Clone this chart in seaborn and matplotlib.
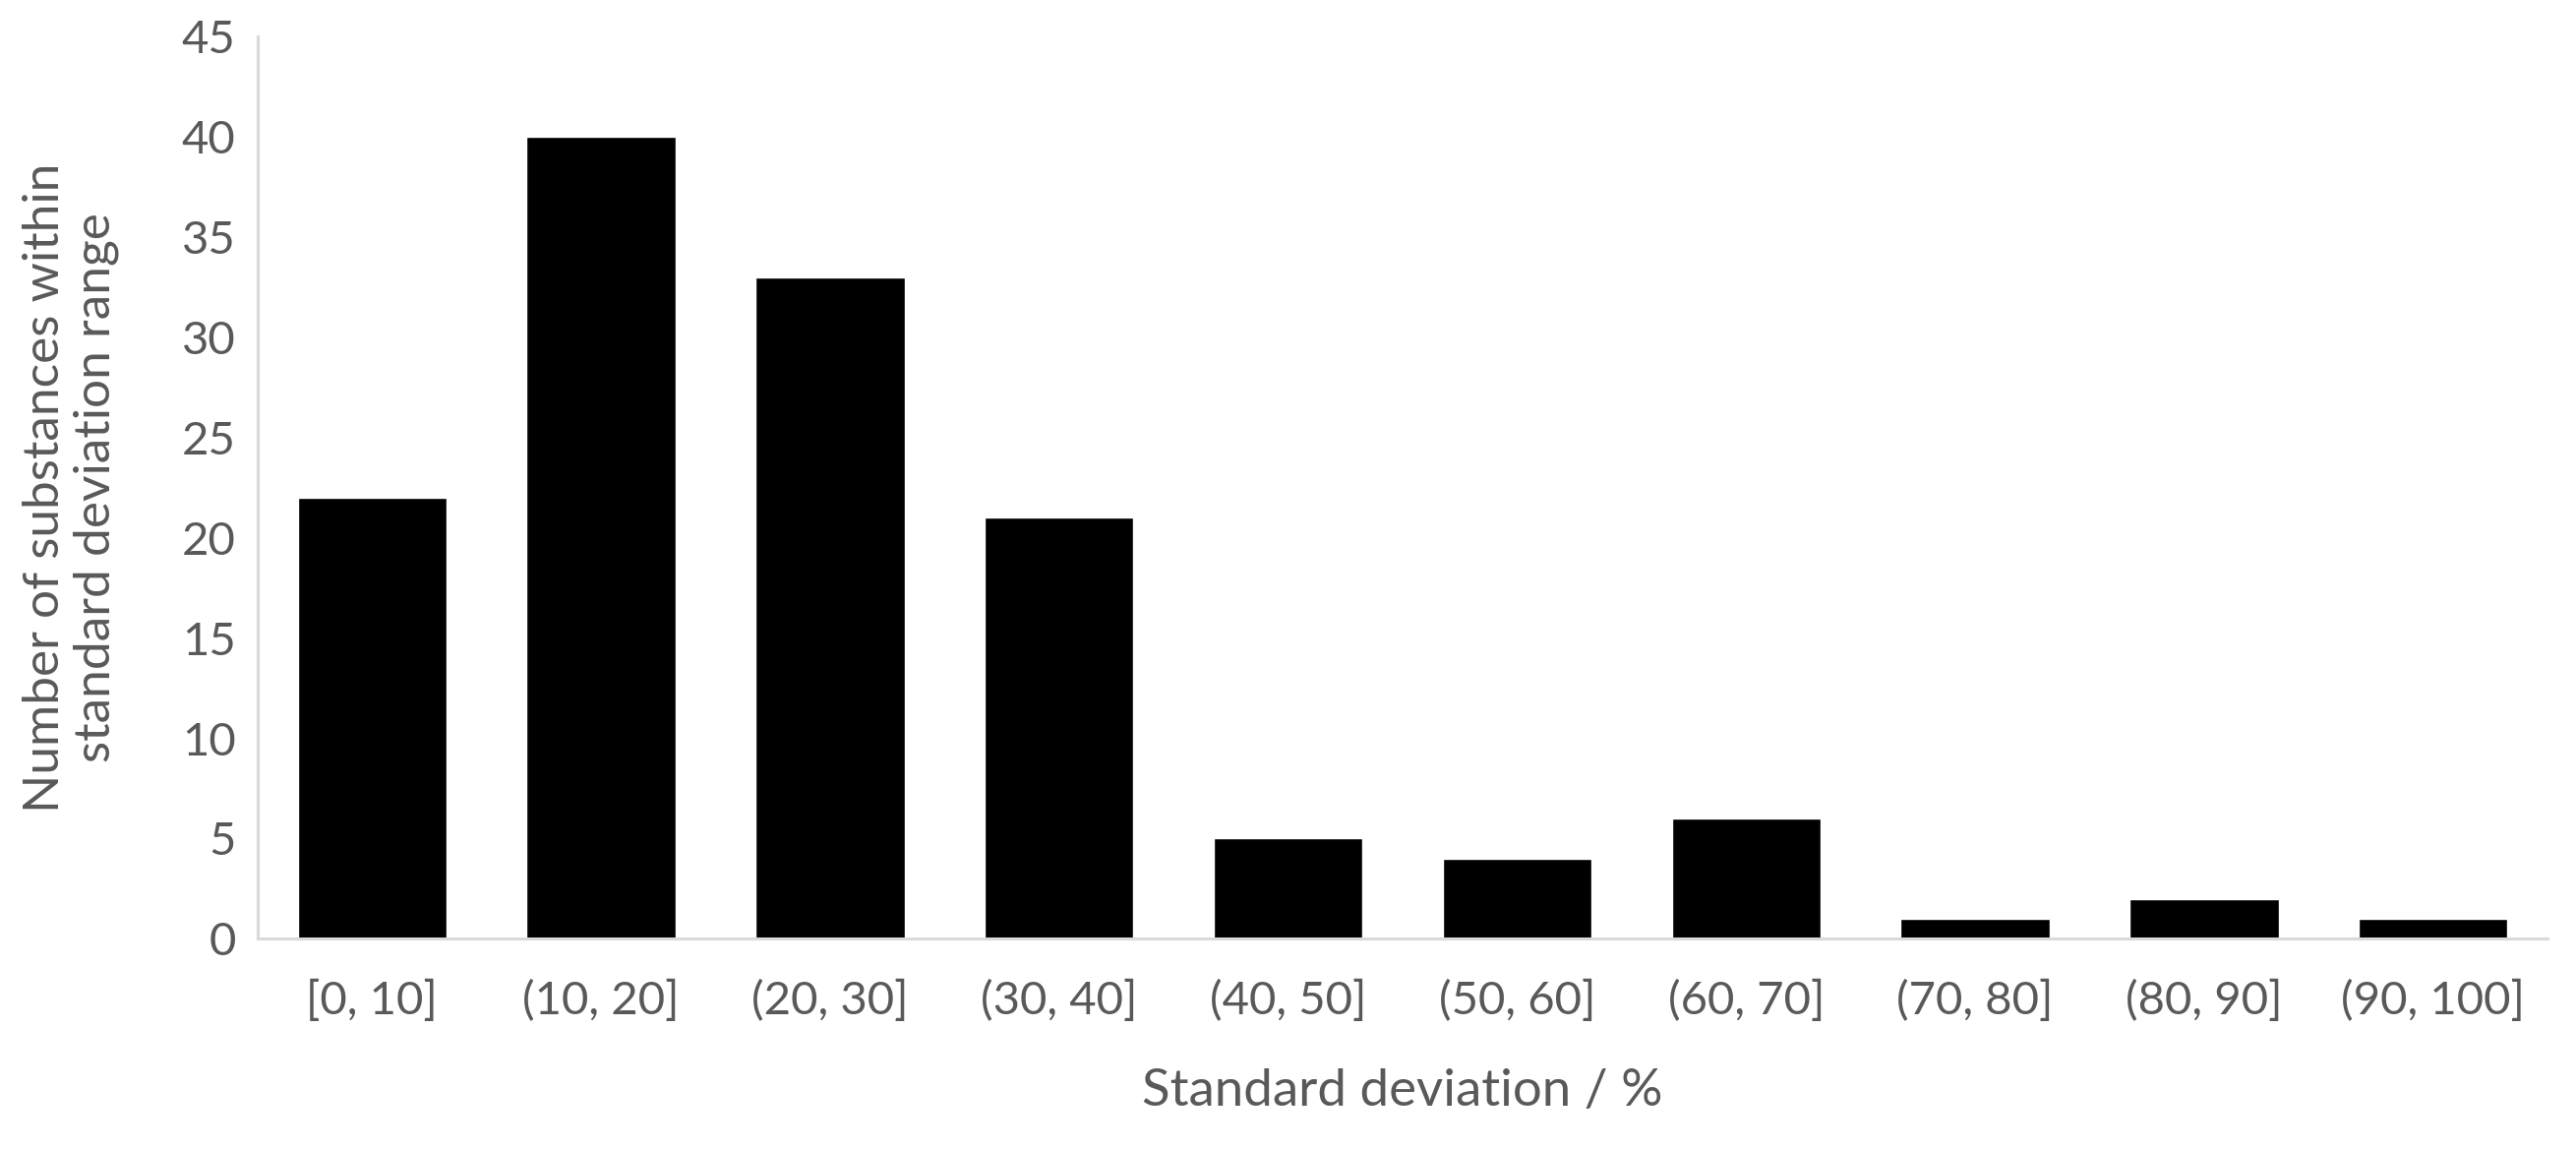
import matplotlib
matplotlib.use("Agg")
import matplotlib.pyplot as plt
import seaborn as sns
import pandas as pd

# histogram of standard deviation ranges
bins = ['[0, 10]', '(10, 20]', '(20, 30]', '(30, 40]', '(40, 50]',
        '(50, 60]', '(60, 70]', '(70, 80]', '(80, 90]', '(90, 100]']
counts = [22, 40, 33, 21, 5, 4, 6, 1, 2, 1]
y_ticks = [0, 5, 10, 15, 20, 25, 30, 35, 40, 45]

df = pd.DataFrame({'bin': bins, 'count': counts})

sns.set_theme(style="white")
plt.rcParams['font.family'] = ['Lato', 'DejaVu Sans']
grey = '#595959'

fig = plt.figure(figsize=(26.19, 11.68), dpi=100)
ax = fig.add_axes([0.100, 0.183, 0.889, 0.785])
sns.barplot(data=df, x='bin', y='count', color='black', width=0.65,
            saturation=1, ax=ax)

ax.set_ylim(0, 45)
ax.set_xlim(-0.5, 9.5)
ax.set_yticks(y_ticks)
ax.tick_params(axis='both', length=0, labelsize=34, labelcolor=grey)
ax.tick_params(axis='y', pad=16)
ax.tick_params(axis='x', pad=30)
for s in ['top', 'right']:
    ax.spines[s].set_visible(False)
for s in ['left', 'bottom']:
    ax.spines[s].set_color('#d9d9d9')
    ax.spines[s].set_linewidth(2.2)

ax.set_xlabel('Standard deviation / %', fontsize=38, color=grey, labelpad=34)
ax.set_ylabel('Number of substances within\nstandard deviation range',
              fontsize=37, color=grey, labelpad=46, linespacing=1.15)

plt.savefig('out.png', dpi=100)
plt.close()
